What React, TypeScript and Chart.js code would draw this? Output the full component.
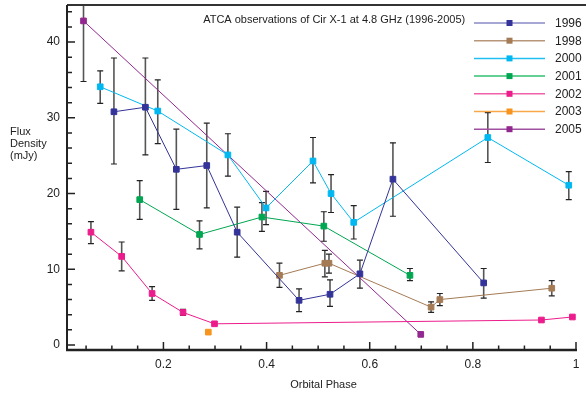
import React, { useEffect, useRef } from "react";
import { Chart, registerables } from "chart.js";

Chart.register(...registerables);

// ---- Data ----
const x1996 = [0.104, 0.165, 0.225, 0.284, 0.343, 0.463, 0.523, 0.581, 0.645, 0.821];
const y1996 = [30.8, 31.4, 23.2, 23.7, 14.9, 5.9, 6.7, 9.4, 21.9, 8.2];
const hi1996 = [37.9, 37.9, 28.5, 29.3, 18.2, 7.4, 8.6, 11.2, 26.7, 10.1];
const lo1996 = [23.9, 25.1, 17.9, 18.1, 11.6, 4.4, 5.1, 7.5, 17.0, 6.2];

const x1998 = [0.425, 0.513, 0.521, 0.719, 0.736, 0.953];
const y1998 = [9.2, 10.8, 10.8, 5.0, 6.0, 7.5];
const hi1998 = [10.8, 12.5, 12.0, 5.7, 6.8, 8.5];
const lo1998 = [7.6, 9.0, 9.5, 4.3, 5.2, 6.5];

const x2000 = [0.0774, 0.189, 0.325, 0.399, 0.49, 0.525, 0.569, 0.829, 0.986];
const y2000 = [34.1, 30.9, 25.1, 18.1, 24.3, 20.0, 16.2, 27.4, 21.1];
const hi2000 = [36.2, 35.0, 27.9, 20.3, 27.4, 22.5, 18.4, 30.7, 22.9];
const lo2000 = [31.9, 26.6, 22.3, 15.9, 21.4, 17.5, 14.0, 24.1, 19.2];

const x2001 = [0.154, 0.27, 0.391, 0.511, 0.678];
const y2001 = [19.2, 14.6, 16.9, 15.7, 9.2];
const hi2001 = [21.7, 16.4, 18.8, 17.6, 10.1];
const lo2001 = [16.6, 12.7, 15.0, 13.7, 8.5];

const x2002 = [0.0594, 0.119, 0.178, 0.238, 0.299, 0.933, 0.993];
const y2002 = [14.9, 11.7, 6.8, 4.3, 2.8, 3.3, 3.7];
const hi2002 = [16.3, 13.6, 7.7, 4.7, null, null, null];
const lo2002 = [13.4, 9.8, 5.9, 3.9, null, null, null];

const x2003 = [0.287];
const y2003 = [1.7];
const hi2003 = [null];
const lo2003 = [null];

const x2005 = [0.045, 0.699];
const y2005 = [42.8, 1.4];
const hi2005 = [50.8, null];
const lo2005 = [34.8, null];

const seriesNames = ["1996", "1998", "2000", "2001", "2002", "2003", "2005"];
const seriesColors = ["#333399", "#a47b55", "#00b8f1", "#00a651", "#ec1c8c", "#f7941d", "#92278f"];
const legendLineColors = ["#8a8ac8", "#b8967a", "#22c0f2", "#33c070", "#f060a8", "#f8a848", "#a050a0"];

const xMajorTicks = [0.2, 0.4, 0.6, 0.8, 1.0];
const xMinorTicks = [0.05, 0.1, 0.15, 0.25, 0.3, 0.35, 0.45, 0.5, 0.55, 0.65, 0.7, 0.75, 0.85, 0.9, 0.95];
const yMajorTicks = [0, 10, 20, 30, 40];
const yMinorTicks = [2, 4, 6, 8, 12, 14, 16, 18, 22, 24, 26, 28, 32, 34, 36, 38, 42, 44];

const chartTitle = "ATCA observations of Cir X-1 at 4.8 GHz (1996-2005)";
const yTitleLines = ["Flux", "Density", "(mJy)"];
const xTitle = "Orbital Phase";

const SERIES = [
  { x: x1996, y: y1996, hi: hi1996, lo: lo1996 },
  { x: x1998, y: y1998, hi: hi1998, lo: lo1998 },
  { x: x2000, y: y2000, hi: hi2000, lo: lo2000 },
  { x: x2001, y: y2001, hi: hi2001, lo: lo2001 },
  { x: x2002, y: y2002, hi: hi2002, lo: lo2002 },
  { x: x2003, y: y2003, hi: hi2003, lo: lo2003 },
  { x: x2005, y: y2005, hi: hi2005, lo: lo2005 },
];

const FONT = "'Liberation Sans', Arial, sans-serif";

const decor = {
  id: "decor",
  beforeDatasetsDraw(chart: any) {
    const { ctx, chartArea: a, scales } = chart;
    const xs = scales.x, ys = scales.y;
    ctx.save();
    ctx.beginPath();
    ctx.rect(a.left, a.top, a.right - a.left, a.bottom - a.top);
    ctx.clip();
    SERIES.forEach((s) => {
      s.x.forEach((xv: number, i: number) => {
        const lo = s.lo[i], hi = s.hi[i];
        if (lo == null || hi == null) return;
        const px = xs.getPixelForValue(xv);
        const p1 = ys.getPixelForValue(lo);
        const p2 = ys.getPixelForValue(hi);
        ctx.strokeStyle = "#555";
        ctx.lineWidth = 1.6;
        ctx.beginPath();
        ctx.moveTo(px, p1);
        ctx.lineTo(px, p2);
        ctx.stroke();
        ctx.strokeStyle = "#222";
        ctx.lineWidth = 1.2;
        ctx.beginPath();
        ctx.moveTo(px - 3, p1);
        ctx.lineTo(px + 3, p1);
        ctx.moveTo(px - 3, p2);
        ctx.lineTo(px + 3, p2);
        ctx.stroke();
      });
    });
    ctx.restore();
  },
  afterDraw(chart: any) {
    const { ctx, chartArea: a, scales, width } = chart;
    const xs = scales.x, ys = scales.y;
    ctx.save();
    // axes
    ctx.strokeStyle = "#333";
    ctx.lineWidth = 2;
    ctx.beginPath();
    ctx.moveTo(a.left, a.top);
    ctx.lineTo(width, a.top);
    ctx.stroke();
    ctx.strokeStyle = "#222";
    ctx.beginPath();
    ctx.moveTo(a.left, a.top);
    ctx.lineTo(a.left, a.bottom);
    ctx.stroke();
    ctx.lineWidth = 2.5;
    ctx.beginPath();
    ctx.moveTo(a.left - 1, a.bottom);
    ctx.lineTo(a.right + 1, a.bottom);
    ctx.stroke();
    // ticks (inward)
    ctx.lineWidth = 1.5;
    ctx.strokeStyle = "#222";
    ctx.beginPath();
    xMajorTicks.forEach((v) => {
      const px = xs.getPixelForValue(v);
      ctx.moveTo(px, a.bottom);
      ctx.lineTo(px, a.bottom - 8);
    });
    xMinorTicks.forEach((v) => {
      const px = xs.getPixelForValue(v);
      ctx.moveTo(px, a.bottom);
      ctx.lineTo(px, a.bottom - 4.5);
    });
    yMajorTicks.forEach((v) => {
      const py = ys.getPixelForValue(v);
      ctx.moveTo(a.left, py);
      ctx.lineTo(a.left + 8, py);
    });
    yMinorTicks.forEach((v) => {
      const py = ys.getPixelForValue(v);
      ctx.moveTo(a.left, py);
      ctx.lineTo(a.left + 5, py);
    });
    ctx.stroke();

    // title
    ctx.fillStyle = "#222";
    ctx.font = `11px ${FONT}`;
    ctx.textBaseline = "middle";
    ctx.textAlign = "left";
    ctx.fillText(chartTitle, xs.getPixelForValue(0.277), a.top + 15);

    // y title
    yTitleLines.forEach((t, i) => {
      ctx.fillText(t, 10, 132 + i * 12);
    });
    // x title
    ctx.textAlign = "center";
    ctx.fillText(xTitle, (a.left + a.right) / 2 + 2, 385);

    // legend
    const lx0 = a.right - 102, lx1 = a.right - 31, tx = a.right - 21;
    ctx.font = `12px ${FONT}`;
    ctx.textAlign = "left";
    seriesNames.forEach((name, i) => {
      const ly = a.top + 18 + i * 17.7;
      ctx.strokeStyle = legendLineColors[i];
      ctx.lineWidth = 1.5;
      ctx.beginPath();
      ctx.moveTo(lx0, ly);
      ctx.lineTo(lx1, ly);
      ctx.stroke();
      ctx.fillStyle = seriesColors[i];
      const mx = (lx0 + lx1) / 2;
      ctx.fillRect(mx - 3, ly - 3, 6, 6);
      ctx.fillStyle = "#222";
      ctx.fillText(name, tx, ly + 0.5);
    });
    ctx.restore();
  },
};

export default function App() {
  const ref = useRef<HTMLCanvasElement | null>(null);
  useEffect(() => {
    document.body.style.margin = "0";
    const canvas = ref.current!;
    const datasets = SERIES.map((s, i) => ({
      label: seriesNames[i],
      data: s.x.map((xv: number, j: number) => ({ x: xv, y: s.y[j] })),
      showLine: s.x.length > 1,
      borderColor: seriesColors[i],
      backgroundColor: seriesColors[i],
      borderWidth: 1,
      pointStyle: "rect",
      pointRadius: 4,
      pointBorderWidth: 1,
      pointBorderColor: seriesColors[i],
      pointBackgroundColor: seriesColors[i],
      tension: 0,
    }));
    const chart = new Chart(canvas, {
      type: "scatter",
      data: { datasets },
      options: {
        animation: false,
        responsive: false,
        layout: { padding: { top: 5, right: 10, left: 0, bottom: 0 } },
        plugins: { legend: { display: false }, tooltip: { enabled: false }, title: { display: false } },
        scales: {
          x: {
            type: "linear",
            min: 0.013,
            max: 1.0,
            grid: { display: false, drawTicks: false },
            border: { display: false },
            afterBuildTicks: (sc: any) => {
              sc.ticks = xMajorTicks.map((v) => ({ value: v }));
            },
            afterFit: (sc: any) => {
              sc.height = 45;
              sc.paddingLeft = 0;
              sc.paddingRight = 0;
            },
            ticks: {
              padding: 7,
              maxRotation: 0,
              autoSkip: false,
              color: "#222",
              font: { family: FONT, size: 12 },
              callback: (v: any) => (Number(v) === 1 ? "1" : Number(v).toFixed(1)),
            },
          },
          y: {
            type: "linear",
            min: -0.66,
            max: 44.9,
            grid: { display: false, drawTicks: false },
            border: { display: false },
            afterBuildTicks: (sc: any) => {
              sc.ticks = yMajorTicks.map((v) => ({ value: v }));
            },
            afterFit: (sc: any) => {
              sc.width = 67;
              sc.paddingTop = 0;
              sc.paddingBottom = 0;
            },
            ticks: {
              padding: 7,
              autoSkip: false,
              color: "#222",
              font: { family: FONT, size: 12 },
              callback: (v: any) => String(v),
            },
          },
        },
      },
      plugins: [decor],
    } as any);
    return () => chart.destroy();
  }, []);
  return <canvas ref={ref} width={586} height={395} style={{ display: "block" }} />;
}
